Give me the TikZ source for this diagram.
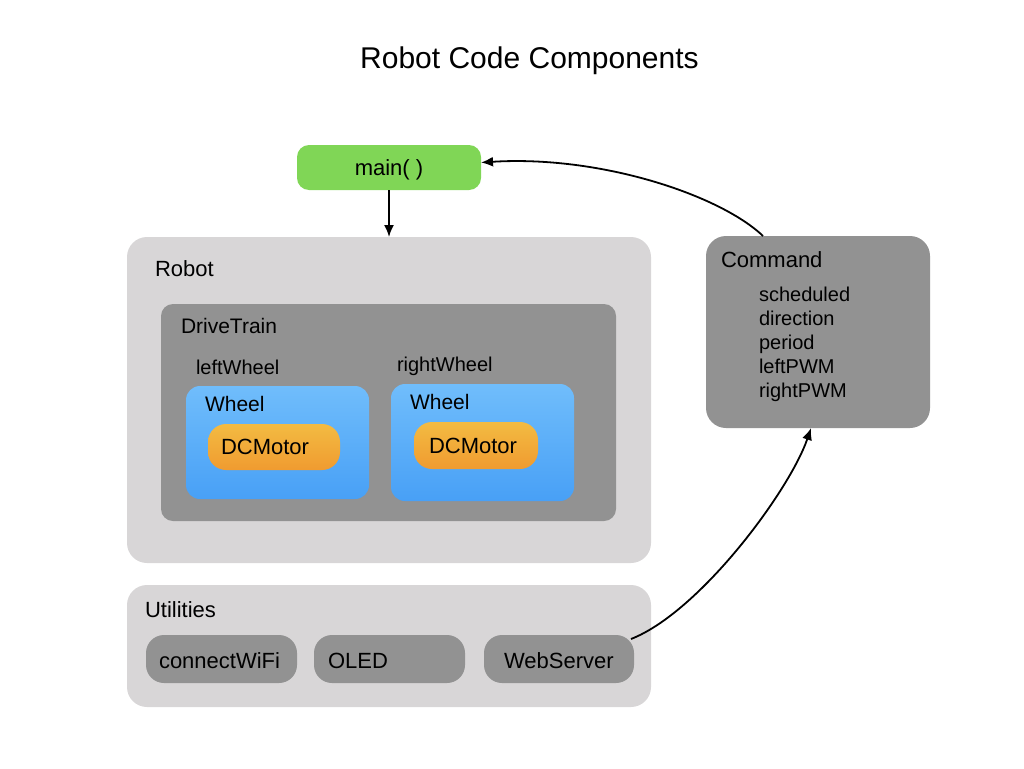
\documentclass[tikz,border=0pt]{standalone}
\usepackage{fontspec}
\setmainfont{Liberation Sans}
\usetikzlibrary{arrows.meta}
\definecolor{lightbg}{RGB}{216,214,215}
\definecolor{midgray}{RGB}{146,146,146}
\definecolor{maingreen}{RGB}{128,214,86}
\definecolor{bluetop}{RGB}{112,189,251}
\definecolor{bluebot}{RGB}{72,160,246}
\definecolor{orangetop}{RGB}{243,187,66}
\definecolor{orangebot}{RGB}{240,155,48}
\tikzset{
  box/.style={rectangle, inner sep=0pt, outer sep=0pt, anchor=north west, draw=none},
  lbl/.style={inner sep=0pt, outer sep=0pt, anchor=base west, font=\fontsize{22}{26}\selectfont},
  sml/.style={inner sep=0pt, outer sep=0pt, anchor=base west, font=\fontsize{20}{24}\selectfont},
  arr/.style={line width=1.8pt, -{Latex[length=12pt,width=10pt]}},
}
\begin{document}
\begin{tikzpicture}[x=1pt,y=-1pt]
\useasboundingbox (0,0) rectangle (1024,768);
% title
\node[inner sep=0pt, anchor=base west, font=\fontsize{30}{36}\selectfont] (title) at (360,68) {Robot Code Components};
% main
\node[box, fill=maingreen, rounded corners=12pt, minimum width=184pt, minimum height=45pt] (main) at (297,145) {};
\node[lbl, anchor=base] (maintxt) at (389,175) {main( )};
% Robot
\node[box, fill=lightbg, rounded corners=20pt, minimum width=524pt, minimum height=326pt] (robot) at (127,237) {};
\node[lbl] (robottxt) at (155,276) {Robot};
% DriveTrain
\node[box, fill=midgray, rounded corners=12pt, minimum width=455pt, minimum height=217pt] (drive) at (161,304) {};
\node[lbl, font=\fontsize{21}{25}\selectfont] (drivetxt) at (181,333) {DriveTrain};
\node[sml] (lw) at (196,374) {leftWheel};
\node[sml] (rw) at (397,371) {rightWheel};
% wheels
\node[box, top color=bluetop, bottom color=bluebot, rounded corners=14pt, minimum width=183pt, minimum height=113pt] (wheelL) at (186,386) {};
\node[lbl, font=\fontsize{21}{25}\selectfont] (wheelLtxt) at (205,411) {Wheel};
\node[box, top color=orangetop, bottom color=orangebot, rounded corners=18pt, minimum width=132pt, minimum height=46pt] (motorL) at (208,424) {};
\node[lbl] (motorLtxt) at (221,454) {DCMotor};
\node[box, top color=bluetop, bottom color=bluebot, rounded corners=14pt, minimum width=183pt, minimum height=117pt] (wheelR) at (391,384) {};
\node[lbl, font=\fontsize{21}{25}\selectfont] (wheelRtxt) at (410,409) {Wheel};
\node[box, top color=orangetop, bottom color=orangebot, rounded corners=18pt, minimum width=124pt, minimum height=47pt] (motorR) at (414,422) {};
\node[lbl] (motorRtxt) at (429,453) {DCMotor};
% Command
\node[box, fill=midgray, rounded corners=20pt, minimum width=224pt, minimum height=192pt] (cmd) at (706,236) {};
\node[lbl] (cmdtxt) at (721,267) {Command};
\node[sml, anchor=north west, align=left, font=\fontsize{20}{24}\selectfont] (cmditems) at (759,287)
  {scheduled\\direction\\period\\leftPWM\\rightPWM};
% Utilities
\node[box, fill=lightbg, rounded corners=20pt, minimum width=524pt, minimum height=122pt] (util) at (127,585) {};
\node[lbl] (utiltxt) at (145,617) {Utilities};
\node[box, fill=midgray, rounded corners=18pt, minimum width=151pt, minimum height=48pt] (wifi) at (146,635) {};
\node[lbl] (wifitxt) at (159,668) {connectWiFi};
\node[box, fill=midgray, rounded corners=18pt, minimum width=151pt, minimum height=48pt] (oled) at (314,635) {};
\node[lbl] (oledtxt) at (328,668) {OLED};
\node[box, fill=midgray, rounded corners=18pt, minimum width=150pt, minimum height=48pt] (web) at (484,635) {};
\node[lbl] (webtxt) at (504,668) {WebServer};
% arrows
\draw[arr] (main.south) -- (robot.north);
\draw[arr] ([xshift=57pt]cmd.north west) .. controls (720,195) and (600,155) .. ([yshift=5pt]main.east);
\draw[arr] ([xshift=-3pt,yshift=-4pt]web.north east) .. controls (700,612) and (790,490) .. ([xshift=105pt]cmd.south west);
\end{tikzpicture}
\end{document}
